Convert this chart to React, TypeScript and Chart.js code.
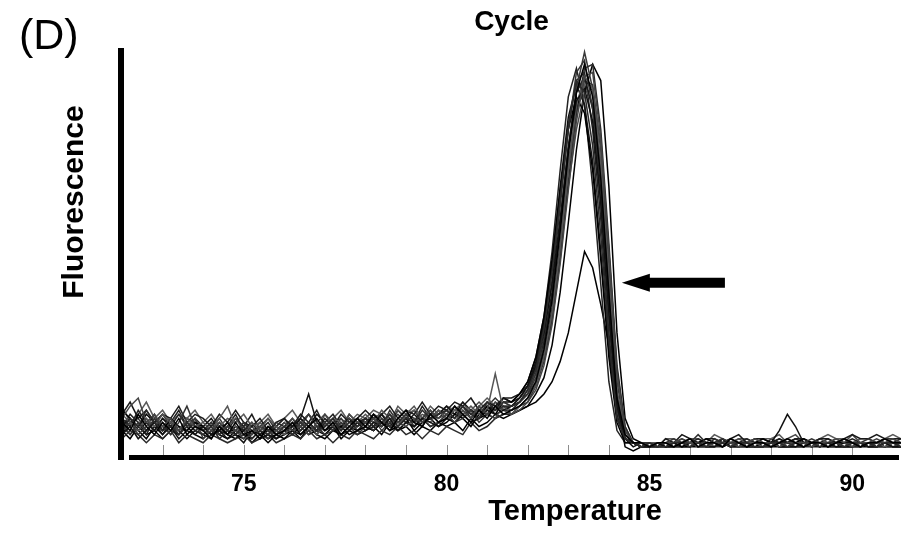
import { useEffect, useRef } from 'react';
import { Chart, registerables } from 'chart.js';

Chart.register(...registerables);

// Temperature (°C) sampled every 0.2 degrees
const temperatures = [
  72.0, 72.2, 72.4, 72.6, 72.8, 73.0, 73.2, 73.4, 73.6, 73.8,
  74.0, 74.2, 74.4, 74.6, 74.8, 75.0, 75.2, 75.4, 75.6, 75.8,
  76.0, 76.2, 76.4, 76.6, 76.8, 77.0, 77.2, 77.4, 77.6, 77.8,
  78.0, 78.2, 78.4, 78.6, 78.8, 79.0, 79.2, 79.4, 79.6, 79.8,
  80.0, 80.2, 80.4, 80.6, 80.8, 81.0, 81.2, 81.4, 81.6, 81.8,
  82.0, 82.2, 82.4, 82.6, 82.8, 83.0, 83.2, 83.4, 83.6, 83.8,
  84.0, 84.2, 84.4, 84.6, 84.8, 85.0, 85.2, 85.4, 85.6, 85.8,
  86.0, 86.2, 86.4, 86.6, 86.8, 87.0, 87.2, 87.4, 87.6, 87.8,
  88.0, 88.2, 88.4, 88.6, 88.8, 89.0, 89.2, 89.4, 89.6, 89.8,
  90.0, 90.2, 90.4, 90.6, 90.8, 91.0, 91.2,
];

// Melt-curve fluorescence (-dF/dT, arbitrary units) per sample
const trace01 = [
  8, 6, 10, 7, 5, 8, 6, 9, 5, 7, 6, 4, 7, 5, 8, 5, 6, 4, 7, 5,
  6, 8, 5, 7, 9, 6, 8, 5, 7, 9, 7, 10, 8, 6, 9, 11, 8, 7, 10, 8,
  9, 12, 10, 8, 11, 9, 12, 10,
  11, 12, 14, 18, 26, 38, 55, 74, 89, 96, 88, 68, 40, 14, 5, 3, 3, 2, 3,
  3, 2, 3, 4, 2, 3, 3, 2, 4, 3, 2, 3, 3, 2, 3, 4, 3, 2, 3, 3, 2, 3, 4, 3, 2, 3, 3, 4, 3, 3,
];
const trace02 = [
  6, 9, 7, 11, 8, 6, 7, 5, 8, 6, 5, 7, 4, 6, 5, 7, 4, 6, 5, 8,
  7, 5, 6, 8, 6, 7, 9, 6, 8, 7, 9, 7, 8, 10, 7, 9, 8, 11, 9, 10,
  11, 9, 12, 10, 9, 13, 11, 12,
  12, 13, 16, 21, 31, 45, 63, 80, 92, 89, 76, 54, 28, 9, 4, 3, 2, 3, 2,
  2, 3, 3, 2, 3, 2, 4, 3, 2, 3, 3, 2, 2, 3, 3, 2, 3, 2, 3, 2, 3, 3, 2, 3, 2, 3, 2, 3, 3, 2,
];
const trace03 = [
  9, 12, 14, 8, 10, 7, 9, 6, 8, 7, 5, 6, 8, 5, 6, 4, 5, 7, 5, 6,
  8, 6, 7, 5, 8, 10, 7, 6, 9, 8, 8, 9, 7, 10, 8, 7, 9, 8, 11, 9,
  10, 8, 11, 9, 12, 10, 9, 12,
  10, 11, 13, 16, 22, 32, 47, 65, 82, 93, 94, 78, 50, 20, 6, 3, 3, 2, 3,
  3, 3, 4, 3, 3, 2, 3, 3, 3, 2, 3, 4, 3, 3, 2, 3, 3, 3, 2, 3, 3, 4, 3, 2, 3, 3, 4, 3, 4, 3,
];
const trace04 = [
  5, 7, 4, 6, 8, 5, 7, 4, 6, 5, 7, 5, 6, 4, 5, 3, 6, 4, 5, 4,
  6, 7, 9, 15, 8, 6, 7, 5, 6, 8, 6, 8, 7, 9, 6, 8, 7, 9, 8, 7,
  9, 8, 10, 8, 9, 11, 10, 11,
  12, 14, 17, 22, 30, 42, 58, 75, 87, 90, 82, 62, 35, 12, 4, 3, 2, 2, 3,
  2, 2, 3, 2, 3, 2, 2, 3, 2, 2, 3, 2, 2, 3, 2, 2, 2, 3, 2, 2, 3, 2, 2, 2, 3, 2, 2, 3, 2, 2,
];
const trace05 = [
  7, 5, 8, 6, 9, 7, 5, 8, 12, 7, 6, 8, 5, 7, 6, 8, 5, 7, 6, 5,
  7, 5, 8, 6, 7, 5, 6, 8, 6, 7, 8, 6, 9, 7, 8, 10, 7, 9, 7, 8,
  10, 8, 9, 11, 8, 10, 11, 13,
  12, 13, 15, 20, 29, 43, 61, 80, 94, 97, 85, 62, 33, 11, 4, 3, 3, 3, 2,
  3, 4, 3, 3, 5, 3, 3, 4, 3, 3, 3, 4, 3, 3, 3, 4, 3, 3, 4, 3, 3, 3, 4, 3, 3, 4, 3, 4, 4, 3,
];
const trace06 = [
  10, 8, 6, 9, 7, 10, 8, 6, 9, 7, 8, 6, 9, 12, 7, 5, 8, 6, 9, 7,
  5, 7, 6, 8, 5, 7, 9, 8, 6, 8, 10, 8, 11, 9, 7, 10, 12, 9, 8, 11,
  9, 11, 10, 12, 10, 11, 20, 11,
  10, 12, 14, 17, 24, 35, 51, 70, 86, 93, 90, 72, 44, 16, 5, 3, 2, 3, 3,
  3, 2, 3, 3, 2, 3, 2, 3, 3, 2, 3, 3, 2, 3, 3, 2, 3, 3, 2, 3, 3, 3, 2, 3, 2, 3, 3, 2, 3, 3,
];
const trace07 = [
  11, 9, 7, 10, 8, 6, 9, 7, 6, 8, 7, 5, 6, 8, 5, 4, 6, 5, 3, 5,
  4, 6, 5, 7, 5, 4, 6, 7, 5, 6, 7, 6, 8, 6, 7, 9, 6, 8, 9, 7,
  8, 10, 9, 7, 10, 12, 10, 13,
  13, 15, 18, 24, 34, 48, 65, 80, 88, 84, 70, 48, 24, 8, 3, 3, 2, 2, 3,
  2, 3, 2, 3, 3, 4, 3, 2, 3, 3, 2, 3, 4, 3, 2, 3, 3, 4, 3, 3, 2, 3, 3, 2, 3, 3, 3, 2, 3, 3,
];
const trace08 = [
  4, 6, 5, 3, 5, 4, 6, 3, 5, 4, 3, 5, 4, 3, 4, 5, 3, 4, 5, 3,
  4, 5, 4, 6, 4, 5, 3, 5, 4, 6, 5, 4, 6, 5, 7, 5, 6, 4, 6, 5,
  7, 6, 5, 8, 6, 7, 9, 10,
  10, 12, 13, 17, 23, 33, 48, 67, 84, 95, 96, 80, 52, 22, 7, 3, 3, 3, 2,
  2, 2, 2, 3, 2, 2, 2, 2, 3, 2, 2, 2, 2, 2, 3, 2, 2, 2, 2, 3, 2, 2, 2, 2, 2, 3, 2, 2, 2, 2,
];
const trace09 = [
  10, 13, 9, 11, 8, 10, 9, 12, 8, 10, 9, 7, 10, 8, 11, 8, 7, 9, 6, 8,
  9, 7, 10, 8, 6, 9, 7, 10, 8, 9, 11, 9, 10, 12, 9, 11, 10, 13, 10, 12,
  11, 13, 12, 14, 11, 13, 12, 14,
  14, 15, 17, 21, 28, 40, 57, 76, 89, 93, 85, 65, 38, 13, 4, 3, 3, 2, 2,
  4, 3, 5, 4, 3, 4, 4, 3, 4, 5, 3, 4, 4, 3, 4, 3, 4, 4, 3, 4, 4, 3, 4, 5, 4, 4, 5, 4, 4, 4,
];
const trace10 = [
  6, 8, 5, 7, 10, 6, 8, 5, 7, 9, 4, 6, 5, 8, 6, 5, 7, 5, 4, 6,
  5, 8, 7, 10, 7, 8, 6, 9, 7, 5, 7, 9, 6, 8, 10, 8, 7, 9, 11, 8,
  10, 9, 11, 9, 12, 10, 12, 11,
  12, 13, 15, 19, 27, 39, 56, 75, 90, 99, 90, 70, 42, 15, 5, 3, 2, 3, 3,
  3, 3, 2, 3, 3, 3, 2, 3, 2, 3, 3, 3, 3, 2, 3, 2, 3, 3, 3, 2, 3, 3, 2, 3, 3, 2, 3, 3, 2, 3,
];
const trace11 = [
  7, 9, 6, 8, 6, 9, 7, 5, 8, 6, 7, 9, 6, 5, 7, 6, 8, 5, 7, 6,
  8, 6, 9, 7, 10, 8, 6, 7, 9, 7, 9, 8, 10, 7, 9, 8, 10, 8, 9, 10,
  12, 10, 13, 11, 10, 12, 11, 14,
  13, 14, 17, 23, 33, 47, 66, 83, 91, 86, 72, 50, 26, 9, 4, 2, 3, 3, 2,
  3, 2, 3, 3, 2, 3, 3, 2, 3, 3, 2, 3, 3, 3, 6, 10, 7, 3, 2, 3, 3, 2, 3, 3, 2, 3, 3, 2, 3, 3,
];
const trace12 = [
  8, 5, 7, 9, 6, 8, 5, 7, 6, 9, 6, 8, 5, 7, 9, 6, 5, 8, 6, 7,
  6, 9, 7, 8, 6, 10, 8, 7, 10, 8, 8, 10, 9, 7, 11, 9, 8, 10, 9, 11,
  10, 12, 9, 11, 13, 11, 13, 12,
  11, 12, 14, 17, 24, 34, 49, 66, 80, 89, 90, 76, 50, 21, 7, 3, 2, 2, 3,
  3, 3, 3, 4, 3, 2, 3, 3, 3, 4, 3, 3, 3, 3, 3, 4, 5, 3, 3, 4, 3, 3, 3, 5, 3, 3, 3, 4, 3, 3,
];
const trace13 = [
  9, 7, 11, 8, 6, 9, 7, 10, 7, 8, 6, 8, 5, 7, 10, 6, 8, 6, 5, 7,
  9, 6, 8, 7, 5, 8, 10, 7, 9, 6, 8, 10, 7, 9, 8, 10, 9, 7, 10, 9,
  11, 9, 12, 10, 11, 13, 12, 14,
  13, 15, 18, 24, 34, 50, 70, 88, 95, 86, 66, 42, 18, 6, 3, 3, 2, 3, 3,
  3, 3, 2, 3, 4, 3, 3, 3, 2, 3, 4, 3, 3, 2, 3, 3, 4, 3, 3, 2, 3, 3, 3, 4, 3, 3, 2, 3, 3, 4,
];
const trace14 = [
  5, 8, 6, 4, 7, 5, 8, 6, 4, 6, 5, 4, 7, 5, 4, 6, 3, 5, 6, 4,
  5, 6, 4, 7, 6, 5, 7, 4, 6, 5, 6, 7, 5, 8, 6, 7, 5, 7, 6, 8,
  7, 8, 6, 9, 7, 8, 10, 9,
  10, 11, 12, 15, 19, 27, 40, 57, 75, 89, 96, 92, 66, 30, 9, 4, 3, 2, 3,
  2, 3, 2, 2, 3, 3, 2, 4, 2, 3, 2, 2, 3, 3, 2, 2, 3, 2, 3, 3, 2, 3, 2, 3, 3, 2, 2, 3, 2, 2,
];
const trace15 = [
  12, 8, 10, 13, 9, 11, 8, 10, 9, 11, 8, 10, 7, 9, 8, 10, 7, 8, 10, 7,
  9, 11, 8, 10, 8, 7, 9, 11, 8, 10, 9, 11, 10, 8, 12, 10, 11, 9, 12, 10,
  12, 11, 13, 10, 12, 14, 12, 13,
  12, 14, 16, 20, 28, 39, 55, 72, 85, 91, 86, 68, 41, 15, 5, 3, 3, 2, 2,
  4, 4, 3, 4, 4, 3, 5, 4, 3, 4, 4, 3, 4, 4, 5, 3, 4, 4, 3, 4, 5, 4, 4, 3, 4, 4, 3, 4, 5, 4,
];
const trace16 = [
  7, 10, 8, 5, 9, 6, 8, 11, 7, 9, 7, 5, 8, 6, 9, 7, 10, 6, 8, 5,
  7, 9, 6, 8, 11, 7, 9, 6, 10, 8, 9, 7, 10, 8, 11, 9, 8, 12, 9, 10,
  11, 10, 12, 9, 11, 10, 13, 11,
  11, 13, 16, 22, 32, 46, 64, 81, 92, 94, 80, 58, 30, 10, 4, 3, 2, 3, 3,
  3, 2, 3, 3, 3, 2, 3, 4, 3, 2, 3, 3, 2, 4, 3, 3, 2, 3, 3, 3, 4, 3, 2, 3, 3, 3, 2, 3, 3, 2,
];
const trace17 = [
  6, 8, 9, 6, 8, 10, 7, 6, 9, 8, 6, 7, 9, 6, 5, 8, 6, 7, 9, 6,
  7, 6, 8, 10, 7, 6, 8, 9, 6, 9, 8, 9, 7, 11, 8, 9, 11, 8, 9, 11,
  9, 12, 10, 11, 9, 12, 14, 12,
  12, 13, 15, 18, 25, 36, 52, 70, 84, 92, 91, 75, 47, 18, 6, 3, 3, 2, 2,
  3, 3, 4, 3, 2, 3, 3, 3, 4, 3, 3, 2, 3, 3, 4, 3, 3, 3, 2, 3, 3, 4, 3, 3, 3, 2, 3, 4, 3, 3,
];
// The low-peak sample marked by the arrow
const arrowTrace = [
  6, 4, 7, 5, 6, 4, 6, 5, 7, 5, 4, 6, 5, 4, 6, 5, 4, 6, 4, 5,
  6, 5, 7, 5, 6, 8, 6, 5, 7, 6, 7, 6, 8, 7, 6, 8, 7, 9, 7, 8,
  9, 8, 10, 8, 9, 10, 9, 10,
  10, 11, 12, 13, 15, 18, 23, 30, 40, 50, 46, 37, 27, 13, 2, 1, 2, 2, 2,
  2, 2, 2, 2, 2, 2, 2, 3, 2, 2, 2, 2, 2, 2, 2, 2, 2, 2, 3, 2, 2, 2, 2, 2, 2, 2, 2, 2, 2, 2,
];

const traces = [
  trace01, trace02, trace03, trace04, trace05, trace06, trace07, trace08, trace09,
  trace10, trace11, trace12, trace13, trace14, trace15, trace16, trace17, arrowTrace,
];
const traceColors = [
  '#000000', '#2a2a2a', '#444444', '#111111', '#333333', '#555555', '#000000', '#2a2a2a', '#1a1a1a',
  '#3a3a3a', '#111111', '#4a4a4a', '#222222', '#000000', '#5a5a5a', '#1e1e1e', '#333333', '#000000',
];

// Axis settings
const xMin = 72;
const xMax = 91.2;
const yMin = 0;
const yMax = 100;
const labeledTicks = [75, 80, 85, 90];

// Arrow annotation (data units): tip [temperature, value], tail temperature
const arrowTip = [84.32, 42.3];
const arrowTailTemp = 86.86;

const FONT = '"Liberation Sans", Arial, Helvetica, sans-serif';

const decorPlugin = {
  id: 'decor',
  beforeDatasetsDraw(chart: any) {
    const { ctx, chartArea, scales } = chart;
    const xs = scales.x;
    ctx.save();
    ctx.strokeStyle = '#8c8c8c';
    ctx.lineWidth = 1;
    xs.ticks.forEach((t: any) => {
      if (Number.isInteger(t.value) && t.value > xs.min) {
        const px = Math.round(xs.getPixelForValue(t.value)) + 0.5;
        ctx.beginPath();
        ctx.moveTo(px, chartArea.bottom);
        ctx.lineTo(px, chartArea.bottom - 10);
        ctx.stroke();
      }
    });
    ctx.restore();
  },
  afterDatasetsDraw(chart: any) {
    const { ctx, chartArea, scales } = chart;
    const xs = scales.x;
    const ys = scales.y;
    ctx.save();
    ctx.fillStyle = '#000';
    // axis bars
    ctx.fillRect(chartArea.left - 4, chartArea.top, 6, chartArea.bottom + 5 - chartArea.top);
    ctx.fillRect(chartArea.left + 7, chartArea.bottom, chartArea.right - 2 - (chartArea.left + 7), 5);
    // arrow
    const tx = xs.getPixelForValue(arrowTip[0]);
    const ty = ys.getPixelForValue(arrowTip[1]);
    const tail = xs.getPixelForValue(arrowTailTemp);
    ctx.beginPath();
    ctx.moveTo(tx, ty);
    ctx.lineTo(tx + 28, ty - 9);
    ctx.lineTo(tx + 28, ty - 5);
    ctx.lineTo(tail, ty - 5);
    ctx.lineTo(tail, ty + 5);
    ctx.lineTo(tx + 28, ty + 5);
    ctx.lineTo(tx + 28, ty + 9);
    ctx.closePath();
    ctx.fill();
    ctx.restore();
  },
  afterDraw(chart: any) {
    const { ctx } = chart;
    ctx.save();
    ctx.fillStyle = '#000';
    ctx.textBaseline = 'alphabetic';
    ctx.textAlign = 'left';
    ctx.font = `43px ${FONT}`;
    ctx.fillText('(D)', 19, 49);
    ctx.textAlign = 'center';
    ctx.font = `bold 29px ${FONT}`;
    ctx.fillText('Temperature', 575, 520);
    ctx.translate(83, 202);
    ctx.rotate(-Math.PI / 2);
    ctx.font = `bold 30px ${FONT}`;
    ctx.fillText('Fluorescence', 0, 0);
    ctx.restore();
  },
};

export default function App() {
  const canvasRef = useRef<HTMLCanvasElement | null>(null);

  useEffect(() => {
    document.body.style.margin = '0';
    const canvas = canvasRef.current;
    if (!canvas) return;
    const datasets = traces.map((vals, k) => ({
      label: k === traces.length - 1 ? 'Low peak' : `Sample ${k + 1}`,
      data: temperatures.map((t, i) => ({ x: t, y: vals[i] })),
      borderColor: traceColors[k],
      borderWidth: 1.5,
      pointRadius: 0,
      tension: 0,
      fill: false,
    }));
    const chart = new Chart(canvas, {
      type: 'line',
      data: { datasets },
      options: {
        responsive: false,
        animation: false,
        devicePixelRatio: 1,
        layout: { padding: { left: 122, right: 7, top: 0, bottom: 0 } },
        plugins: {
          legend: { display: false },
          tooltip: { enabled: false },
          title: {
            display: true,
            text: 'Cycle',
            fullSize: false,
            color: '#000',
            font: { family: FONT, size: 28, weight: 'bold' },
            padding: { top: 5, bottom: 9.4 },
          },
        },
        scales: {
          x: {
            type: 'linear',
            min: xMin,
            max: xMax,
            grid: { display: false, drawTicks: false },
            border: { display: false },
            ticks: {
              stepSize: 1,
              autoSkip: false,
              maxRotation: 0,
              minRotation: 0,
              padding: 0,
              color: '#000',
              font: { family: FONT, size: 23, weight: 'bold', lineHeight: 2.6 },
              callback: (v: any) => (labeledTicks.includes(Number(v)) ? String(v) : ''),
            },
            afterFit: (scale: any) => {
              scale.height = 83;
            },
          },
          y: {
            type: 'linear',
            min: yMin,
            max: yMax,
            display: false,
          },
        },
      },
      plugins: [decorPlugin],
    });
    return () => chart.destroy();
  }, []);

  return (
    <div style={{ position: 'absolute', left: 0, top: 0, width: 908, height: 538, background: '#fff' }}>
      <canvas ref={canvasRef} width={908} height={538} />
    </div>
  );
}
